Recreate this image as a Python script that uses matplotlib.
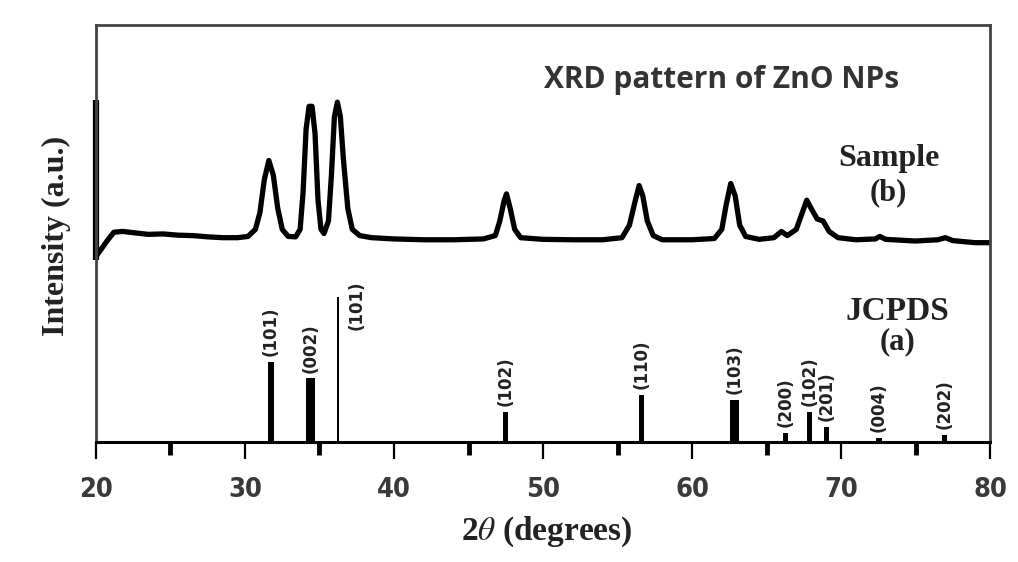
import matplotlib
matplotlib.use("Agg")
import matplotlib.pyplot as plt
from matplotlib import font_manager
from matplotlib.ticker import MultipleLocator

# sample pattern (b)
two_theta = [20.0, 20.3, 20.8, 21.2, 21.8, 22.5, 23.5, 24.5, 25.5, 26.5, 27.5, 28.5, 29.5,
             30.2, 30.7, 31.0, 31.3, 31.6, 31.9, 32.2, 32.5, 32.9, 33.4, 33.7, 33.9, 34.1,
             34.3, 34.5, 34.7, 34.9, 35.1, 35.3, 35.6, 35.8, 36.0, 36.2, 36.4, 36.6, 36.9,
             37.2, 37.7, 38.5, 40.0, 42.0, 44.0, 46.0, 46.8, 47.1, 47.4, 47.55, 47.8, 48.1,
             48.5, 50.0, 52.0, 54.0, 55.3, 55.8, 56.2, 56.45, 56.7, 57.0, 57.4, 58.0, 60.0,
             61.5, 62.0, 62.3, 62.6, 62.9, 63.2, 63.6, 64.5, 65.5, 66.0, 66.4, 67.0, 67.4,
             67.7, 68.0, 68.4, 68.8, 69.2, 69.8, 71.0, 72.3, 72.6, 73.0, 75.0, 76.5, 77.0,
             77.5, 79.0, 80.0]
intensity = [44.5, 46.0, 48.5, 50.3, 50.5, 50.2, 49.8, 49.9, 49.6, 49.5, 49.2, 49.0, 49.0,
             49.3, 51.0, 55.0, 63.0, 67.5, 64.0, 56.0, 51.0, 49.3, 49.2, 51.0, 60.0, 75.0,
             80.5, 80.5, 74.0, 58.0, 51.0, 50.0, 53.0, 64.0, 78.0, 81.5, 78.0, 68.0, 56.0,
             51.0, 49.5, 49.0, 48.7, 48.5, 48.5, 48.7, 49.5, 53.0, 58.0, 59.5, 56.0, 51.0,
             49.0, 48.6, 48.5, 48.5, 49.0, 52.0, 58.0, 61.5, 59.0, 53.0, 49.5, 48.5, 48.5,
             48.8, 51.0, 57.0, 62.0, 59.0, 52.0, 49.3, 48.6, 49.0, 50.5, 49.5, 51.0, 55.0,
             58.0, 56.0, 53.5, 53.0, 50.5, 49.0, 48.5, 48.7, 49.3, 48.6, 48.2, 48.5, 49.0,
             48.3, 47.8, 47.8]

# JCPDS reference lines (a)
ref_pos = [31.75, 34.4, 36.25, 47.5, 56.6, 62.85, 66.3, 67.9, 69.05, 72.55, 76.95]
ref_int = [19.2, 15.3, 34.8, 7.2, 11.3, 10.1, 2.2, 7.2, 3.6, 1.0, 1.7]
ref_hkl = ["(101)", "(002)", "(101)", "(102)", "(110)", "(103)", "(200)", "(102)",
           "(201)", "(004)", "(202)"]
bar_widths = [0.35, 0.55, 0.14, 0.35, 0.35, 0.55, 0.35, 0.35, 0.35, 0.35, 0.35]

# narrow bold face for the tick numbers, if one is installed
narrow = None
for f in font_manager.fontManager.ttflist:
    if "Condensed" in f.fname and "Bold" in f.fname and "Sans" in f.name:
        narrow = f.fname
        break

fig = plt.figure(figsize=(10.18, 5.62), dpi=100)
ax = fig.add_axes([0.0943, 0.2135, 0.8782, 0.742])

ax.plot(two_theta, intensity, color="black", lw=3.8, solid_joinstyle="round")
ax.bar(ref_pos, ref_int, width=bar_widths, color="black", align="center")

for x, h, lab in zip(ref_pos, ref_int, ref_hkl):
    if h == max(ref_int):
        # label of the tallest line sits beside it
        ax.annotate(lab, (x, h), xytext=(13, -6), textcoords="offset points",
                    rotation=90, ha="center", va="center", fontsize=12,
                    fontweight="bold", color="#222")
    else:
        ax.annotate(lab, (x, h), xytext=(0, 4), textcoords="offset points",
                    rotation=90, ha="center", va="bottom", fontsize=12,
                    fontweight="bold", color="#222")

# thick segment on the left spine behind the sample curve
ax.plot([20, 20], [43.6, 82], color="black", lw=4.5, clip_on=False, solid_capstyle="butt")

ax.set_xlim(20, 80)
ax.set_ylim(0, 100)
ax.set_yticks([])
ax.xaxis.set_major_locator(MultipleLocator(10))
ax.xaxis.set_minor_locator(MultipleLocator(5))
ax.tick_params(axis="x", which="major", length=12, width=1.6, direction="out", pad=13,
               labelcolor="#3a3a3a")
ax.tick_params(axis="x", which="minor", length=9, width=3.5, direction="out")
for lab in ax.get_xticklabels():
    if narrow:
        lab.set_fontproperties(font_manager.FontProperties(fname=narrow, size=19.5))
    else:
        lab.set_fontsize(16)
        lab.set_fontweight("bold")

for side in ["top", "right", "left"]:
    ax.spines[side].set_color("#444")
    ax.spines[side].set_linewidth(2)
ax.spines["bottom"].set_linewidth(2.2)

ax.text(62.0, 86.8, "XRD pattern of ZnO NPs", ha="center", va="center", fontsize=21.5,
        fontweight="bold", color="#333", family=["Open Sans", "DejaVu Sans"])
serif = ["Liberation Serif", "DejaVu Serif"]
ax.text(73.2, 68.0, "Sample", ha="center", va="center", fontsize=23, fontweight="bold",
        color="#222", family=serif)
ax.text(73.2, 59.8, "(b)", ha="center", va="center", fontsize=22, fontweight="bold",
        color="#222", family=serif)
ax.text(73.8, 31.2, "JCPDS", ha="center", va="center", fontsize=24, fontweight="bold",
        color="#222", family=serif)
ax.text(73.8, 24.0, "(a)", ha="center", va="center", fontsize=22, fontweight="bold",
        color="#222", family=serif)

plt.rcParams["mathtext.fontset"] = "stix"
fig.text(0.055, 0.58, "Intensity (a.u.)", rotation=90, ha="center", va="center",
         fontsize=23, fontweight="bold", color="#222", family=serif)
fig.text(0.537, 0.053, r"2$\theta$ (degrees)", ha="center", va="center", fontsize=24,
         fontweight="bold", color="#222", family=serif)

fig.savefig("out.png", dpi=100, facecolor="white")
